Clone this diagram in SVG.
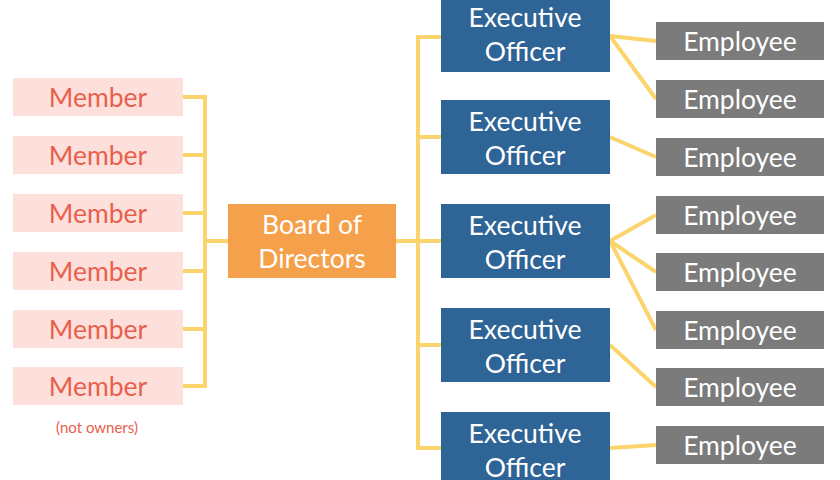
<svg xmlns="http://www.w3.org/2000/svg" width="840" height="480" viewBox="0 0 840 480">
<style>
.m rect{fill:#fde0dc}.m text{fill:#e8604c}
.e rect{fill:#2f6496}.g rect{fill:#7b7b7b}
text{font-family:Lato,"Open Sans",sans-serif;font-size:26.5px;text-anchor:middle;fill:#fff}
.c{fill:none;stroke:#fbd46e;stroke-width:4}
</style>
<rect width="840" height="480" fill="#fff"/>
<g class="c">
<path d="M183 97H205M183 155H205M183 213H205M183 271H205M183 329H205M183 386H205M205 95V388M205 241H228"/>
<path d="M396 241H418M418 35V450M418 37H441M418 137H441M418 241H441M418 345H441M418 448H441"/>
<path d="M610 36L656 41M610 36L656 99M610 137L656 157M610 241L656 215M610 241L656 272M610 241L656 330M610 345L656 387M610 448L656 445"/>
</g>
<g id="m1" class="m"><rect x="13" y="78" width="170" height="38"/><text x="98" y="107">Member</text></g>
<g id="m2" class="m"><rect x="13" y="136" width="170" height="38"/><text x="98" y="165">Member</text></g>
<g id="m3" class="m"><rect x="13" y="194" width="170" height="38"/><text x="98" y="223">Member</text></g>
<g id="m4" class="m"><rect x="13" y="252" width="170" height="38"/><text x="98" y="281">Member</text></g>
<g id="m5" class="m"><rect x="13" y="310" width="170" height="38"/><text x="98" y="339">Member</text></g>
<g id="m6" class="m"><rect x="13" y="367" width="170" height="38"/><text x="98" y="396">Member</text></g>
<text x="97" y="433" style="font-size:15px;fill:#e8604c">(not owners)</text>
<g id="board"><rect x="228" y="204" width="168" height="74" fill="#f5a04a"/><text x="312" y="234">Board of</text><text x="312" y="268">Directors</text></g>
<g id="x1" class="e"><rect x="441" y="0" width="169" height="72"/><text x="525" y="27">Executive</text><text x="525" y="61">Officer</text></g>
<g id="x2" class="e"><rect x="441" y="100" width="169" height="74"/><text x="525" y="131">Executive</text><text x="525" y="165">Officer</text></g>
<g id="x3" class="e"><rect x="441" y="204" width="169" height="74"/><text x="525" y="235">Executive</text><text x="525" y="269">Officer</text></g>
<g id="x4" class="e"><rect x="441" y="308" width="169" height="74"/><text x="525" y="339">Executive</text><text x="525" y="373">Officer</text></g>
<g id="x5" class="e"><rect x="441" y="412" width="169" height="68"/><text x="525" y="443">Executive</text><text x="525" y="477">Officer</text></g>
<g id="p1" class="g"><rect x="656" y="22" width="168" height="38"/><text x="740" y="51">Employee</text></g>
<g id="p2" class="g"><rect x="656" y="80" width="168" height="38"/><text x="740" y="109">Employee</text></g>
<g id="p3" class="g"><rect x="656" y="138" width="168" height="38"/><text x="740" y="167">Employee</text></g>
<g id="p4" class="g"><rect x="656" y="196" width="168" height="38"/><text x="740" y="225">Employee</text></g>
<g id="p5" class="g"><rect x="656" y="253" width="168" height="38"/><text x="740" y="282">Employee</text></g>
<g id="p6" class="g"><rect x="656" y="311" width="168" height="38"/><text x="740" y="340">Employee</text></g>
<g id="p7" class="g"><rect x="656" y="368" width="168" height="38"/><text x="740" y="397">Employee</text></g>
<g id="p8" class="g"><rect x="656" y="426" width="168" height="38"/><text x="740" y="455">Employee</text></g>
</svg>
